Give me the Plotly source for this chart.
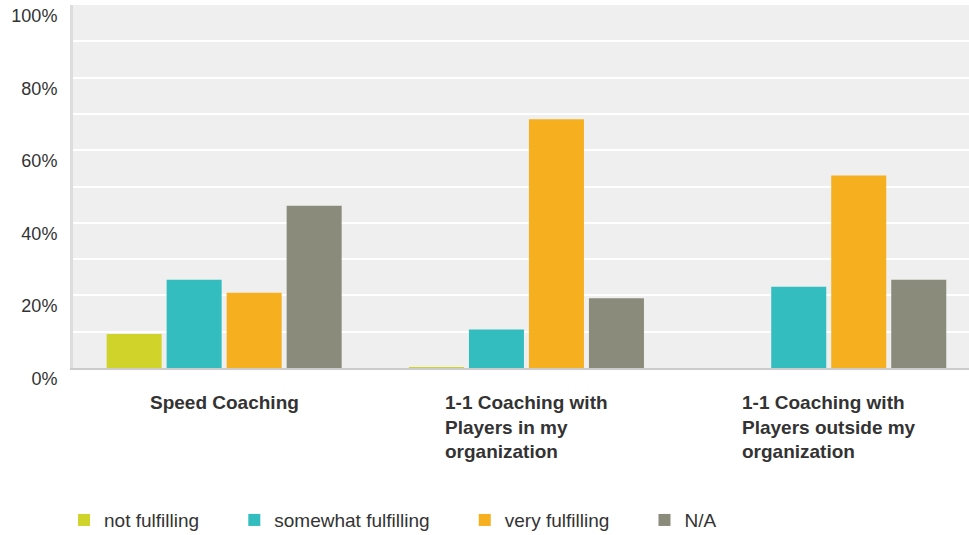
import plotly.graph_objects as go

categories = ["Speed Coaching",
              "1-1 Coaching with Players in my organization",
              "1-1 Coaching with Players outside my organization"]
category_labels = ["Speed Coaching",
                   "1-1 Coaching with<br>Players in my<br>organization",
                   "1-1 Coaching with<br>Players outside my<br>organization"]
series_names = ["not fulfilling", "somewhat fulfilling", "very fulfilling", "N/A"]
not_fulfilling = [9.4, 0.2, 0.0]
somewhat_fulfilling = [24.3, 10.6, 22.4]
very_fulfilling = [20.7, 68.5, 53.0]
na_values = [44.7, 19.2, 24.3]
series_values = [not_fulfilling, somewhat_fulfilling, very_fulfilling, na_values]
colors = ["#D0D32A", "#33BDBF", "#F6AF1F", "#8A8B7A"]
y_ticks = [0, 20, 40, 60, 80, 100]

FONT = "Liberation Sans, Arial, sans-serif"
pad = "\u00a0" * 5 + "\u2009"

fig = go.Figure()
for name, vals, col in zip(series_names, series_values, colors):
    fig.add_trace(go.Bar(x=categories, y=vals, name=name + pad,
                         marker=dict(color=col, line=dict(width=0))))

for cat, lab in zip(categories, category_labels):
    fig.add_annotation(x=cat, xref="x", y=0, yref="paper", yanchor="top",
                       xanchor="center", align="left", yshift=-22,
                       text="<b>" + lab + "</b>", showarrow=False,
                       font=dict(family=FONT, size=19, color="#333333"))

fig.update_layout(
    width=969, height=535,
    margin=dict(l=73, r=0, t=5, b=167, autoexpand=False),
    paper_bgcolor="white", plot_bgcolor="#EFEFEF",
    barmode="group", bargap=0.206, bargroupgap=0.083,
    font=dict(family=FONT, size=18, color="#333333"),
    showlegend=True,
    legend=dict(orientation="h", x=-0.01, xanchor="left", y=-0.419, yanchor="middle",
                font=dict(family=FONT, size=19, color="#333333"),
                traceorder="normal"),
    xaxis=dict(range=[-0.5, 2.464], showticklabels=False, showgrid=False,
               showline=True, linecolor="#CCCCCC", linewidth=2, ticks="",
               fixedrange=True),
    yaxis=dict(range=[0, 100], tickvals=y_ticks, ticktext=[f"{v}%" for v in y_ticks],
               showgrid=True, gridcolor="white", gridwidth=2,
               minor=dict(dtick=10, showgrid=True, gridcolor="white", gridwidth=2),
               showline=True, linecolor="#DDDDDD", linewidth=3,
               zeroline=False, ticks="", ticklabelposition="outside bottom",
               ticklabelstandoff=9, ticklabelshift=-2,
               tickfont=dict(family=FONT, size=18, color="#333333")),
)

fig.write_html("out.html")
